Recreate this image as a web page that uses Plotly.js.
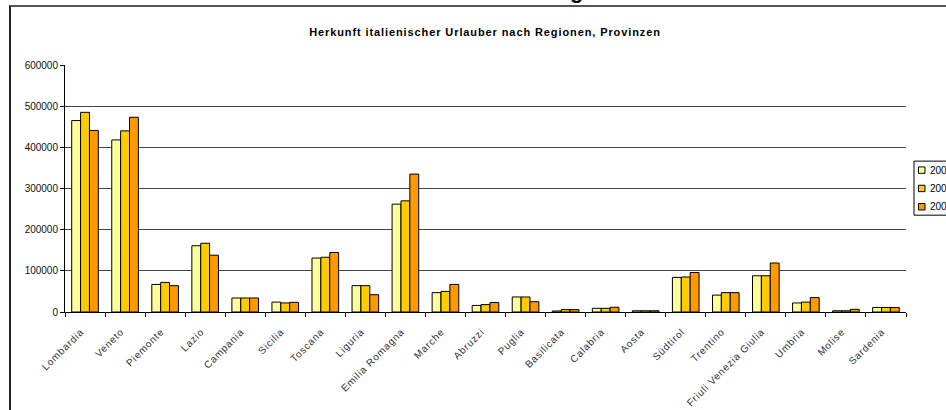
<!DOCTYPE html>
<html>
<head>
<meta charset="utf-8">
<script src="https://cdn.plot.ly/plotly-3.0.1.min.js"></script>
<style>
  html, body { margin: 0; padding: 0; background: #fff; overflow: hidden; }
  #frame { position: absolute; left: 9px; top: 5px; width: 1000px; height: 500px;
           border-left: 2px solid #222; border-top: 2px solid #555; box-sizing: border-box; pointer-events: none; }
  #chart { position: absolute; left: 0; top: 0; width: 946px; height: 410px; }
  .xtick text { letter-spacing: 0.8px; }
  .gtitle { letter-spacing: 0.9px; }
</style>
</head>
<body>
<div id="chart"></div>
<div id="frame"></div>
<script>
// Categories (regions / provinces)
const regions = ["Lombardia", "Veneto", "Piemonte", "Lazio", "Campania", "Sicilia", "Toscana",
  "Liguria", "Emilia Romagna", "Marche", "Abruzzi", "Puglia", "Basilicata", "Calabria", "Aosta",
  "Südtirol", "Trentino", "Friuli Venezia Giulia", "Umbria", "Molise", "Sardenia"];

// Series names (legend text is cut off at the right edge in the reference)
const seriesNames = ["2004", "2005", "2006"];

// Series values
const values1 = [465000, 418000, 67000, 161000, 34000, 24000, 131000, 64000, 262000, 47000, 16000,
  36500, 2500, 9000, 3000, 84000, 41000, 88000, 22000, 3000, 11000];
const values2 = [485000, 440000, 72000, 167000, 34000, 22000, 133000, 64000, 270000, 50000, 18000,
  36500, 5800, 9000, 3000, 85000, 47000, 88000, 24000, 3000, 11000];
const values3 = [441000, 473000, 64000, 138000, 34000, 23500, 144500, 42000, 335000, 67000, 23000,
  25000, 5800, 11500, 3000, 96000, 47000, 119000, 35000, 6500, 11000];

// Y tick values/labels
const yTicks = [0, 100000, 200000, 300000, 400000, 500000, 600000];
const yTickLabels = ["0", "100000", "200000", "300000", "400000", "500000", "600000"];

const colors = ["#FFFF99", "#FFCC00", "#FF9900"];
const allValues = [values1, values2, values3];

const traces = allValues.map((vals, i) => ({
  type: "bar",
  name: seriesNames[i],
  x: regions,
  y: vals,
  marker: { color: colors[i], line: { color: "#000", width: 1 } },
  showlegend: false
}));

const font = "Arial, 'Liberation Sans', sans-serif";

// plot-area geometry (pixels) used to place the legend box in paper units
const W = 946, H = 410, ML = 65, MR = 40, MT = 65, MB = 98.3;
const PW = W - ML - MR, PH = H - MT - MB;
const px = v => (v - ML) / PW;
const py = v => (H - MB - v) / PH;

// Legend (Excel-style, cut off by the right edge as in the reference)
const shapes = [{
  type: "rect", xref: "paper", yref: "paper",
  x0: px(914), x1: px(990), y0: py(215), y1: py(161),
  fillcolor: "#fff", line: { color: "#000", width: 1 }, layer: "above"
}];
const annotations = [];
seriesNames.forEach((name, i) => {
  const cy = 170 + i * 18.3;
  shapes.push({
    type: "rect", xref: "paper", yref: "paper",
    x0: px(918.5), x1: px(925), y0: py(cy + 3.2), y1: py(cy - 3.2),
    fillcolor: colors[i], line: { color: "#000", width: 1 }, layer: "above"
  });
  annotations.push({
    text: name, showarrow: false,
    xref: "paper", x: px(928), xanchor: "left",
    yref: "paper", y: py(cy), yanchor: "middle",
    font: { family: font, size: 10, color: "#000" }
  });
});
// fragment of an outer heading cut off at the top edge
annotations.push({
  text: "<b>g</b>", showarrow: false,
  xref: "paper", x: px(576), xanchor: "center",
  yref: "paper", y: py(5), yanchor: "bottom",
  font: { family: font, size: 22, color: "#000" }
});

const layout = {
  width: W,
  height: H,
  margin: { l: ML, r: MR, t: MT, b: MB, autoexpand: false },
  paper_bgcolor: "rgba(0,0,0,0)",
  plot_bgcolor: "rgba(0,0,0,0)",
  font: { family: font, color: "#000", size: 10 },
  barmode: "group",
  bargap: 0.335,
  bargroupgap: 0,
  title: {
    text: "<b>Herkunft italienischer Urlauber nach Regionen, Provinzen</b>",
    font: { family: font, size: 11, color: "#000" },
    x: px(485), xref: "paper", xanchor: "center",
    y: 27, yref: "container", yanchor: "middle"
  },
  xaxis: {
    type: "category",
    showline: true, linecolor: "#000", linewidth: 1,
    ticks: "outside", tickson: "boundaries", ticklen: 4, tickcolor: "#000",
    tickangle: -45,
    ticklabelstandoff: 9,
    ticklabelshift: -4,
    tickfont: { family: font, size: 10, color: "#333" },
    showgrid: false, zeroline: false,
    automargin: false, fixedrange: true
  },
  yaxis: {
    range: [0, 600000],
    tickvals: yTicks, ticktext: yTickLabels,
    showline: true, linecolor: "#000", linewidth: 1,
    ticks: "outside", ticklen: 4, tickcolor: "#000",
    showgrid: true, gridcolor: "#444", gridwidth: 1,
    zeroline: false,
    tickfont: { family: font, size: 10, color: "#111" },
    automargin: false, fixedrange: true
  },
  showlegend: false,
  shapes: shapes,
  annotations: annotations
};

Plotly.newPlot("chart", traces, layout, { displayModeBar: false, staticPlot: true });
</script>
</body>
</html>
